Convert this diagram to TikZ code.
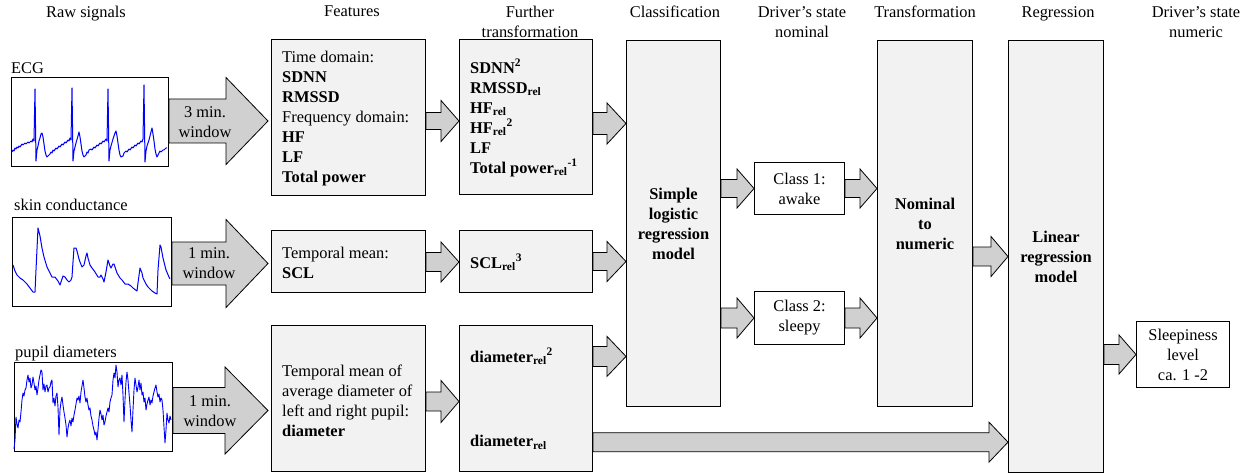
\documentclass[tikz,border=0pt]{standalone}
\usepackage{fontspec}
\setmainfont{Liberation Serif}
\usetikzlibrary{calc}
\definecolor{boxfill}{HTML}{F2F2F2}
\definecolor{arrfill}{HTML}{D0D0D0}
\definecolor{sigblue}{HTML}{0000FF}
\newcommand\blockarr[5]{\draw[arr] let \p1=#1, \p2=#2 in (\x1,\y2+#3pt) -- (\x2-#5pt,\y2+#3pt) -- (\x2-#5pt,\y2+#4pt) -- (\x2,\y2) -- (\x2-#5pt,\y2-#4pt) -- (\x2-#5pt,\y2-#3pt) -- (\x1,\y2-#3pt) -- cycle;}
\tikzset{
 every node/.style={font=\fontsize{16.4}{20}\selectfont, inner sep=0pt},
 sigbox/.style={draw, line width=1pt, fill=white, anchor=north west},
 gbox/.style={draw, line width=1pt, fill=boxfill, anchor=north west, align=center},
 ltext/.style={align=left, anchor=west},
 wbox/.style={draw, line width=1pt, fill=white, anchor=north west, align=center},
 arr/.style={draw, line width=0.8pt, fill=arrfill, line join=miter},
 sig/.style={draw=sigblue, line width=1pt, line join=round},
 lbl/.style={anchor=base west},
 hdr/.style={align=center, anchor=north},
}
\begin{document}
\begin{tikzpicture}[x=1pt,y=-1pt]
\useasboundingbox (0,0) rectangle (1250,476);
% headers
\node[hdr] (h1) at (86,6) {Raw signals};
\node[hdr] (h2) at (352,6) {Features};
\node[hdr] (h3) at (530,6) {Further\\transformation};
\node[hdr] (h4) at (675,6) {Classification};
\node[hdr] (h5) at (802,6) {Driver’s state\\nominal};
\node[hdr] (h6) at (925,6) {Transformation};
\node[hdr] (h7) at (1058,6) {Regression};
\node[hdr] (h8) at (1196,6) {Driver’s state\\numeric};
% raw signal boxes
\node[lbl] (lecg) at (11,73.3) {ECG};
\node[lbl] (lscl) at (14,210.5) {skin conductance};
\node[lbl] (lpup) at (15,357) {pupil diameters};
\node[sigbox, minimum width=157pt, minimum height=89pt] (ecg) at (11,77) {};
\node[sigbox, minimum width=159pt, minimum height=89pt] (scl) at (12,217) {};
\node[sigbox, minimum width=158pt, minimum height=89pt] (pup) at (14,362) {};
% signals
\draw[sig] (12,152)--(13,150)--(14,151)--(15,148)--(16,149)--(17,147)--(18,148)--(19,146)--(20,147)--(22,144)--(23,145)--(25,143)--(26,144)--(28,142)--(29,143)--(31,141)--(32,142)--(33,139)--(34,141)
--(35,89)--(36,161)--(37,150)--(38,146)--(39,141)--(40,138)--(41,134)--(42,133)--(43,137)--(44,144)--(45,151)--(46,155)--(47,157)--(48,156)--(50,154)--(51,152)--(52,153)--(53,150)--(54,151)--(56,148)--(57,149)--(59,146)--(60,147)--(62,144)--(63,145)--(65,142)--(66,143)--(68,140)--(69,141)--(70,138)--(71,140)
--(72,88)--(73,161)--(74,151)--(75,147)--(76,143)--(78,136)--(79,132)--(80,137)--(81,144)--(82,151)--(83,155)--(84,157)--(86,155)--(87,152)--(88,153)--(89,150)--(91,149)--(92,150)--(94,147)--(95,148)--(97,145)--(98,146)--(100,143)--(101,144)--(103,141)--(104,142)--(106,139)--(107,141)
--(108,89)--(109,161)--(110,150)--(111,146)--(113,139)--(115,133)--(116,131)--(117,136)--(118,143)--(119,150)--(120,155)--(121,157)--(123,156)--(124,153)--(126,151)--(127,152)--(129,149)--(130,150)--(132,147)--(133,148)--(135,145)--(136,146)--(138,143)--(139,144)--(141,141)--(142,142)--(143,139)
--(144,85)--(145,162)--(146,151)--(147,146)--(149,140)--(151,132)--(152,128)--(153,134)--(154,141)--(155,149)--(156,154)--(157,157)--(158,155)--(160,151)--(161,152)--(163,150)--(164,150)--(166,148)--(167,148);
\draw[sig] (13,265)--(15,271)--(17,275)--(20,278)--(23,280)--(27,284)--(30,288)--(33,292)--(35,292)--(36,270)--(38,228)--(40,236)--(42,248)--(44,257)--(47,267)--(50,273)--(52,277)--(55,277)--(58,281)--(60,285)--(62,279)--(63,276)--(65,277)--(67,280)--(69,282)--(71,280)--(72,277)--(73,262)--(74,248)--(76,248)--(77,251)--(79,259)--(80,262)--(82,267)--(84,265)--(86,256)--(87,253)--(88,258)--(90,265)--(92,268)--(95,272)--(98,277)--(100,277)--(101,275)--(103,279)--(104,282)--(106,272)--(108,260)--(110,266)--(111,268)--(113,264)--(114,264)--(116,270)--(117,273)--(120,278)--(122,280)--(125,284)--(128,284)--(131,286)--(133,288)--(137,291)--(138,283)--(140,268)--(142,273)--(143,278)--(146,284)--(148,287)--(152,291)--(155,293)--(157,294)--(158,270)--(160,245)--(161,247)--(163,258)--(166,270)--(169,277)--(170,279);
\draw[sig, line width=0.9pt] (14,449)--(15,440)--(16,417)--(17,424)--(18,428)--(19,420)--(20,422)--(21,412)--(22,400)--(23,393)--(24,396)--(25,390)--(26,388)--(27,380)--(28,375)--(29,382)--(30,378)--(31,388)--(32,385)--(33,377)--(34,383)--(35,390)--(36,386)--(37,395)--(38,388)--(39,380)--(40,375)--(41,370)--(42,372)--(43,390)--(44,384)--(45,392)--(46,386)--(47,385)--(48,392)--(49,388)--(50,387)--(51,382)--(52,380)--(53,403)--(54,398)--(55,406)--(56,396)--(57,393)--(58,407)--(59,435)--(60,410)--(61,402)--(62,397)--(63,405)--(64,412)--(65,418)--(66,425)--(67,437)--(68,428)--(69,423)--(70,420)--(71,426)--(72,418)--(73,422)--(74,415)--(75,410)--(76,404)--(77,398)--(78,400)--(79,396)--(80,403)--(81,392)--(82,386)--(83,380)--(84,388)--(85,397)--(86,402)--(87,398)--(88,405)--(89,410)--(90,408)--(91,416)--(92,420)--(93,426)--(94,430)--(95,435)--(96,432)--(97,440)--(98,430)--(99,418)--(100,410)--(101,414)--(102,420)--(103,415)--(104,425)--(105,422)--(106,416)--(107,412)--(108,408)--(109,412)--(110,402)--(111,398)--(112,395)--(113,380)--(114,373)--(115,378)--(116,365)--(117,372)--(118,387)--(119,380)--(120,378)--(121,385)--(122,375)--(123,395)--(124,422)--(125,400)--(126,382)--(127,372)--(128,380)--(129,393)--(130,405)--(131,420)--(132,432)--(133,410)--(134,390)--(135,378)--(136,385)--(137,392)--(138,387)--(139,380)--(140,390)--(141,383)--(142,395)--(143,392)--(144,402)--(145,398)--(146,410)--(147,404)--(148,400)--(149,397)--(150,405)--(151,400)--(152,403)--(153,396)--(154,392)--(155,388)--(156,385)--(157,392)--(158,397)--(159,394)--(160,402)--(161,398)--(162,400)--(163,410)--(164,427)--(165,443)--(166,430)--(167,413)--(168,420)--(169,423)--(170,416)--(171,420);
% feature boxes
\node[gbox, minimum width=154pt, minimum height=156pt] (f1) at (271,39) {};
\node[gbox, minimum width=154pt, minimum height=62pt] (f2) at (271,230) {};
\node[gbox, minimum width=154pt, minimum height=146pt] (f3) at (271,325) {};
\node[ltext] (f1t) at ($(f1.west)+(11,1)$) {Time domain:\\\textbf{SDNN}\\\textbf{RMSSD}\\Frequency domain:\\\textbf{HF}\\\textbf{LF}\\\textbf{Total power}};
\node[ltext] (f2t) at ($(f2.west)+(11,1)$) {Temporal mean:\\\textbf{SCL}};
\node[ltext] (f3t) at ($(f3.west)+(11,2)$) {Temporal mean of\\average diameter of\\left and right pupil:\\\textbf{diameter}};
% further transformation
\node[gbox, minimum width=133pt, minimum height=155pt] (t1) at (459,39) {};
\node[gbox, minimum width=133pt, minimum height=62pt] (t2) at (459,230) {};
\node[gbox, minimum width=133pt, minimum height=146pt] (t3) at (459,325) {};
\node[ltext] (t1t) at ($(t1.west)+(11,1)$) {\textbf{SDNN\textsuperscript{2}}\\\textbf{RMSSD\textsubscript{rel}}\\\textbf{HF\textsubscript{rel}}\\\textbf{HF\textsubscript{rel}\textsuperscript{2}}\\\textbf{LF}\\\textbf{Total power\textsubscript{rel}\textsuperscript{-1}}};
\node[ltext] (t2t) at ($(t2.west)+(11,1)$) {\textbf{SCL\textsubscript{rel}\textsuperscript{3}}};
\node[lbl] (d2) at (470,362) {\textbf{diameter\textsubscript{rel}\textsuperscript{2}}};
\node[lbl] (d1) at (470,446.5) {\textbf{diameter\textsubscript{rel}}};
% classification etc.
\node[gbox, minimum width=94pt, minimum height=366pt] (cls) at (626,40) {\textbf{Simple}\\\textbf{logistic}\\\textbf{regression}\\\textbf{model}};
\node[wbox, minimum width=90pt, minimum height=52pt] (c1) at (754,162) {Class 1:\\awake};
\node[wbox, minimum width=90pt, minimum height=53pt] (c2) at (754,291) {Class 2:\\sleepy};
\node[gbox, minimum width=95pt, minimum height=366pt] (nom) at (877,40) {\textbf{Nominal}\\\textbf{to}\\\textbf{numeric}};
\node[gbox, minimum width=95pt, minimum height=432pt] (reg) at (1008,40) {\textbf{Linear}\\\textbf{regression}\\\textbf{model}};
\node[wbox, minimum width=93pt, minimum height=66pt] (out) at (1136,321) {Sleepiness\\level\\ca. 1 -2};
% big arrows
\blockarr{($(ecg.east)+(0,-1)$)}{($(ecg.east -| f1.west)+(-3,-1)$)}{22}{43.5}{42}
\blockarr{($(scl.east)+(0,1.5)$)}{($(scl.east -| f2.west)+(-3,1.5)$)}{21.5}{44}{42}
\blockarr{($(pup.east)+(0,3.5)$)}{($(pup.east -| f3.west)+(-3,3.5)$)}{23}{43.5}{43}
\node[align=center] (w1) at (205,122) {3 min.\\window};
\node[align=center] (w2) at (209,263.5) {1 min.\\window};
\node[align=center] (w3) at (210,411.5) {1 min.\\window};
% medium arrows
\blockarr{($(f1.east)+(0,3.5)$)}{($(f1.east -| t1.west)+(0,3.5)$)}{8.5}{20.5}{18}
\blockarr{($(f2.east)+(0,0.5)$)}{($(f2.east -| t2.west)+(0,0.5)$)}{9.5}{20}{18}
\blockarr{($(f3.east)+(0,3)$)}{($(f3.east -| t3.west)+(0,3)$)}{9.5}{21}{18}
\blockarr{($(t1.east)+(0,6.5)$)}{($(t1.east -| cls.west)+(0,6.5)$)}{11}{20.5}{19}
\blockarr{(t2.east)}{(t2.east -| cls.west)}{9}{20}{19}
\blockarr{(t3.east |- d2.center)}{(cls.west |- d2.center)}{10}{20}{19}
\blockarr{(cls.east |- c1.west)}{(c1.west)}{9}{19.5}{17}
\blockarr{(cls.east |- c2.west)}{(c2.west)}{10}{20}{17}
\blockarr{(c1.east)}{(c1.east -| nom.west)}{9}{19.5}{17}
\blockarr{(c2.east)}{(c2.east -| nom.west)}{10}{20}{17}
\blockarr{(nom.east |- reg.west)}{(reg.west)}{9.5}{20}{17}
\blockarr{(t3.east |- d1.center)}{(reg.west |- d1.center)}{9.5}{20}{19}
\blockarr{(reg.east |- out.west)}{(out.west)}{10}{19.5}{17}
\end{tikzpicture}
\end{document}
